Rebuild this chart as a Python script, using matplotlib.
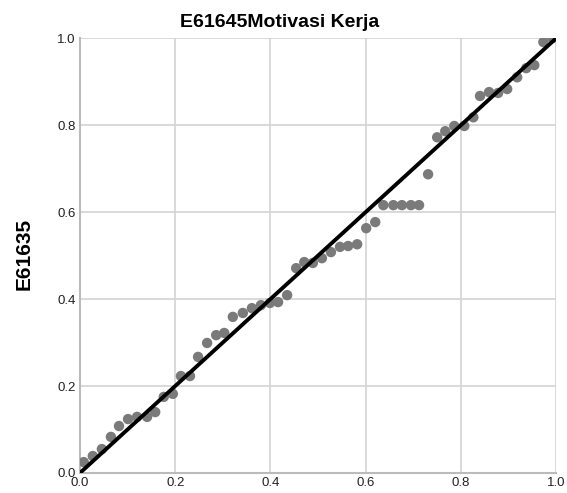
import numpy as np
import matplotlib
matplotlib.use("Agg")
import matplotlib.pyplot as plt

plt.rcParams["font.family"] = ["Liberation Sans", "DejaVu Sans"]

obs_prob = [
    0.008, 0.027, 0.046, 0.065, 0.082, 0.101, 0.120, 0.141, 0.158, 0.176,
    0.195, 0.212, 0.231, 0.248, 0.267, 0.286, 0.303, 0.321, 0.342, 0.361,
    0.380, 0.399, 0.416, 0.435, 0.454, 0.471, 0.489, 0.508, 0.527, 0.546,
    0.563, 0.582, 0.601, 0.620, 0.637, 0.658, 0.676, 0.695, 0.712, 0.731,
    0.750, 0.767, 0.786, 0.807, 0.826, 0.840, 0.859, 0.878, 0.897, 0.918,
    0.937, 0.954, 0.973, 0.992,
]
exp_prob = [
    0.025, 0.039, 0.055, 0.083, 0.108, 0.124, 0.129, 0.129, 0.140, 0.175,
    0.182, 0.223, 0.223, 0.267, 0.299, 0.317, 0.322, 0.359, 0.368, 0.379,
    0.386, 0.391, 0.393, 0.409, 0.471, 0.485, 0.483, 0.494, 0.508, 0.520,
    0.522, 0.526, 0.563, 0.577, 0.616, 0.616, 0.616, 0.616, 0.616, 0.687,
    0.772, 0.786, 0.798, 0.798, 0.818, 0.867, 0.876, 0.874, 0.883, 0.910,
    0.931, 0.938, 0.991, 1.000,
]
ticks = [0.0, 0.2, 0.4, 0.6, 0.8, 1.0]
title = "E61645Motivasi Kerja"
ylabel = "E61635"

fig = plt.figure(figsize=(5.67, 4.93), dpi=100)
ax = fig.add_axes([0.141, 0.0406, 0.840, 0.882])

ax.grid(True, color="#d3d3d3", linewidth=1.2)
ax.set_axisbelow(True)
ax.scatter(obs_prob, exp_prob, s=56, color="#7a7a7a", edgecolors="none", zorder=3)
ax.plot([0, 1], [0, 1], color="black", linewidth=2.8, zorder=4)

ax.set_xlim(0, 1)
ax.set_ylim(0, 1)
ax.set_xticks(ticks)
ax.set_yticks(ticks)
ax.set_xticklabels([f"{t:.1f}" for t in ticks], fontsize=9.5)
ax.set_yticklabels([f"{t:.1f}" for t in ticks], fontsize=9.5)
ax.tick_params(length=0, pad=3, colors="#222222")

for side in ["top", "right"]:
    ax.spines[side].set_visible(False)
for side in ["left", "bottom"]:
    ax.spines[side].set_color("#bbbbbb")
    ax.spines[side].set_linewidth(1.5)

# title sits centred on the figure, a bit left of the axes centre
fig.text(280 / 567, 1 - 27 / 493, title, fontsize=14, fontweight="bold",
         ha="center", va="baseline")
fig.text(24 / 567, 1 - 254 / 493, ylabel, fontsize=15, fontweight="bold",
         rotation=90, ha="center", va="center")

fig.savefig("out.png", dpi=100)
